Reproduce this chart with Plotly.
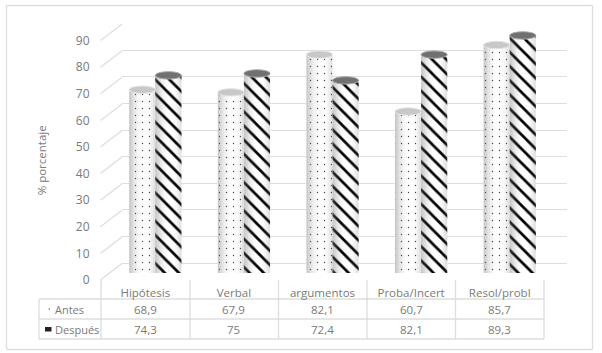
import plotly.graph_objects as go

categories = ["Hipótesis", "Verbal", "argumentos", "Proba/Incert", "Resol/probl"]
antes = [68.9, 67.9, 82.1, 60.7, 85.7]
despues = [74.3, 75, 72.4, 82.1, 89.3]
antes_labels = ["68,9", "67,9", "82,1", "60,7", "85,7"]
despues_labels = ["74,3", "75", "72,4", "82,1", "89,3"]
y_ticks = list(range(0, 100, 10))

W, H = 602, 353
FONT = "Open Sans"
TXT = "#7a7a7a"
GRID = "#dedede"
px = lambda v: v / W
py = lambda v: 1 - v / H
idx = list(range(len(categories)))
BW = 0.295

fig = go.Figure()
# subplot 1: back wall grid, subplot 2: bars, subplot 3: labels
fig.add_trace(go.Scatter(x=idx, y=antes, xaxis="x", yaxis="y", mode="none", hoverinfo="skip", showlegend=False))

fig.add_trace(go.Bar(name="Antes", x=idx, y=antes, xaxis="x2", yaxis="y2", offset=-BW, width=BW,
    marker=dict(color="white", line_width=0, pattern=dict(shape=".", size=7, solidity=0.03, fgcolor="#444", bgcolor="white", fgopacity=1))))
fig.add_trace(go.Bar(name="Después", x=idx, y=despues, xaxis="x2", yaxis="y2", offset=0, width=BW,
    marker=dict(color="white", line_width=0, pattern=dict(shape="\\", size=10, solidity=0.27, fgcolor="#000", bgcolor="white", fgopacity=1))))

# cylinder shading strips
shade = [0.36, 0.27, 0.18, 0.11, 0.06, 0.02, 0, 0, 0, 0.02, 0.06, 0.12, 0.2]
n = len(shade)
for vals, start in ((antes, -BW), (despues, 0)):
    for i, a in enumerate(shade):
        if a:
            fig.add_trace(go.Bar(x=idx, y=vals, xaxis="x2", yaxis="y2", offset=start + BW * i / n, width=BW / n,
                marker=dict(color=f"rgba(110,110,110,{a})", line_width=0), hoverinfo="skip", showlegend=False))

fig.add_trace(go.Scatter(x=idx, y=antes, xaxis="x3", yaxis="y3", mode="none", hoverinfo="skip", showlegend=False))

shapes = []
# cylinder caps from the data
for i in idx:
    shapes.append(dict(type="circle", xref="x2", yref="y2", x0=i - BW, x1=i, y0=antes[i] - 1.4, y1=antes[i] + 1.4,
                       fillcolor="#c8c8c8", line=dict(color="#e6e6e6", width=1), layer="above"))
    shapes.append(dict(type="circle", xref="x2", yref="y2", x0=i, x1=i + BW, y0=despues[i] - 1.4, y1=despues[i] + 1.4,
                       fillcolor="#707070", line=dict(color="#a8a8a8", width=1), layer="above"))

def line(x0, y0, x1, y1, color=GRID, width=1.3):
    shapes.append(dict(type="line", xref="paper", yref="paper", x0=px(x0), x1=px(x1), y0=py(y0), y1=py(y1),
                       line=dict(color=color, width=width), layer="below"))

# chart frame
line(6.5, 5.5, 592.5, 5.5); line(592.5, 5.5, 592.5, 349.5); line(592.5, 349.5, 6.5, 349.5); line(6.5, 349.5, 6.5, 5.5)
# side wall diagonals
for t in y_ticks:
    yf = 280 - t * 2.66
    line(100.5, yf, 122, yf - 16.5)
# table
line(39, 299, 544, 299); line(39, 319, 544, 319); line(39, 339, 544, 339)
line(39, 299, 39, 339)
for xv in (101, 190, 278.5, 367, 455.5, 544):
    line(xv, 280, xv, 339)

annotations = []
for i in idx:
    annotations.append(dict(x=i, y=py(309), xref="x3", yref="paper", text=antes_labels[i], showarrow=False, yanchor="middle"))
    annotations.append(dict(x=i, y=py(329), xref="x3", yref="paper", text=despues_labels[i], showarrow=False, yanchor="middle"))
annotations.append(dict(x=px(53), y=py(309), xref="paper", yref="paper", text="Antes", showarrow=False, xanchor="left", yanchor="middle", font=dict(size=11)))
annotations.append(dict(x=px(53), y=py(329), xref="paper", yref="paper", text="Después", showarrow=False, xanchor="left", yanchor="middle", font=dict(size=11)))
shapes.append(dict(type="circle", xref="paper", yref="paper", x0=px(48.5), x1=px(50), y0=py(309.7), y1=py(308.2),
                   fillcolor="#666", line_width=0))
shapes.append(dict(type="rect", xref="paper", yref="paper", x0=px(45), x1=px(51.5), y0=py(331.5), y1=py(327),
                   fillcolor="#222", line_width=0))

fig.update_layout(
    width=W, height=H, autosize=False, margin=dict(l=0, r=0, t=0, b=0, autoexpand=False),
    paper_bgcolor="white", plot_bgcolor="rgba(0,0,0,0)", barmode="overlay", showlegend=False,
    font=dict(family=FONT, size=11.5, color=TXT),
    shapes=shapes, annotations=annotations,
    xaxis=dict(domain=[px(122), px(567)], range=[-0.5, 4.5], visible=False, anchor="y"),
    yaxis=dict(domain=[py(263), py(23.6)], range=[0, 90], tickvals=y_ticks, showticklabels=False, ticks="",
               showgrid=True, gridcolor=GRID, gridwidth=1.3, zeroline=True, zerolinecolor=GRID, zerolinewidth=1.3,
               showline=False, anchor="x"),
    xaxis2=dict(domain=[px(111), px(554)], range=[-0.5, 4.5], visible=False, anchor="y2"),
    yaxis2=dict(domain=[py(273), py(7)], range=[0, 100], visible=False, anchor="x2"),
    xaxis3=dict(domain=[px(101), px(544)], range=[-0.5, 4.5], tickvals=idx, ticktext=categories, showgrid=False,
                zeroline=False, showline=False, ticks="outside", ticklen=2, tickcolor="rgba(0,0,0,0)", anchor="y3"),
    yaxis3=dict(domain=[py(280), py(40.6)], range=[0, 90], tickvals=y_ticks, showgrid=False, zeroline=False,
                showline=False, ticks="outside", ticklen=8, tickcolor="rgba(0,0,0,0)", anchor="x3",
                title=dict(text="% porcentaje", standoff=26, font=dict(size=11.5)), tickfont=dict(size=12)),
)
fig.write_html("out.html", config=dict(displayModeBar=False),
               post_script="document.body.style.margin='0';document.body.style.overflow='hidden';")
